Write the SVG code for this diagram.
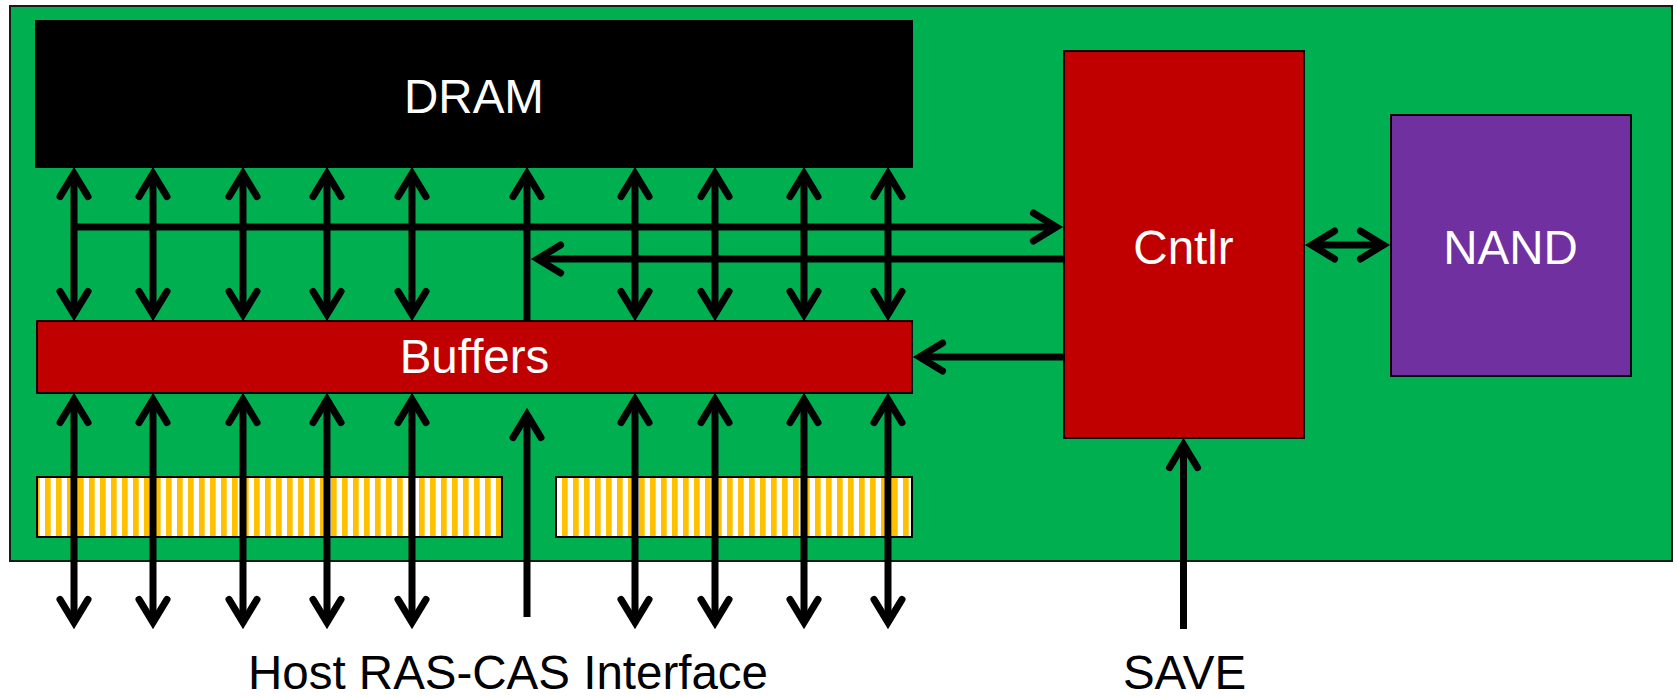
<svg xmlns="http://www.w3.org/2000/svg" width="1677" height="696" viewBox="0 0 1677 696">
  <style>
    .box { stroke: #000; stroke-width: 2; }
    .label { font-family: "Liberation Sans", Arial, sans-serif; font-size: 47.5px; text-anchor: middle; }
    .white { fill: #fff; }
    .dark { fill: #000; }
    .wire { fill: none; stroke: #000; stroke-width: 7; stroke-linecap: butt; }
    .end { marker-end: url(#head); }
    .both { marker-start: url(#head); marker-end: url(#head); }
  </style>
  <defs>
    <!-- open chevron arrowhead; its vertex sits at the path end -->
    <marker id="head" markerUnits="userSpaceOnUse" viewBox="-40 -30 60 60" markerWidth="60" markerHeight="60" refX="0" refY="0" orient="auto-start-reverse" overflow="visible">
      <path d="M-23,-14 L0,0 L-23,14" fill="none" stroke="#000" stroke-width="7" stroke-linecap="round" stroke-linejoin="miter"/>
    </marker>
    <!-- orange / white vertical stripes of the edge connector -->
    <pattern id="stripes" patternUnits="userSpaceOnUse" x="1" y="0" width="11" height="20">
      <rect width="11" height="20" fill="#fff"/>
      <rect width="5.7" height="20" fill="#FFC000"/>
    </pattern>
  </defs>

  <!-- module board -->
  <g id="board">
    <rect x="10" y="6" width="1662" height="555" fill="#00B050" stroke="#1a1a1a" stroke-width="2"/>
  </g>

  <g id="dram">
    <rect class="box" x="36" y="21" width="876" height="146" fill="#000"/>
    <text class="label white" x="474" y="113">DRAM</text>
  </g>

  <g id="buffers">
    <rect class="box" x="37" y="321" width="875" height="72" fill="#C00000"/>
    <text class="label white" x="474.5" y="373">Buffers</text>
  </g>

  <g id="cntlr">
    <rect class="box" x="1064" y="51" width="240" height="387" fill="#C00000"/>
    <text class="label white" x="1183.5" y="264">Cntlr</text>
  </g>

  <g id="nand">
    <rect class="box" x="1391" y="115" width="240" height="261" fill="#7030A0"/>
    <text class="label white" x="1510.5" y="264">NAND</text>
  </g>

  <g id="edge-connector">
    <rect class="box" x="37" y="477" width="465" height="60" fill="url(#stripes)"/>
    <rect class="box" x="556" y="477" width="356" height="60" fill="url(#stripes)"/>
  </g>

  <g id="host-label">
    <text class="label dark" x="508" y="689">Host RAS-CAS Interface</text>
  </g>

  <g id="save-label">
    <text class="label dark" x="1184.5" y="689">SAVE</text>
  </g>

  <g id="connectors">
    <!-- DRAM <-> Buffers data lanes -->
    <path class="wire both" d="M74,173.6 V314.4"/>
    <path class="wire both" d="M153,173.6 V314.4"/>
    <path class="wire both" d="M243,173.6 V314.4"/>
    <path class="wire both" d="M327,173.6 V314.4"/>
    <path class="wire both" d="M412,173.6 V314.4"/>
    <path class="wire both" d="M635,173.6 V314.4"/>
    <path class="wire both" d="M715,173.6 V314.4"/>
    <path class="wire both" d="M804,173.6 V314.4"/>
    <path class="wire both" d="M888,173.6 V314.4"/>
    <!-- command path from Buffers up to DRAM -->
    <path class="wire end" d="M527,321 V173.6"/>
    <!-- DRAM bus tap into the controller -->
    <path class="wire end" d="M74,227 H1056.4"/>
    <!-- controller command to DRAM path -->
    <path class="wire end" d="M1064,259 H537.6"/>
    <!-- controller to Buffers -->
    <path class="wire end" d="M1064,357 H919.6"/>
    <!-- controller <-> NAND -->
    <path class="wire both" d="M1311.6,245 H1383.4"/>

    <!-- Buffers <-> host data lanes -->
    <path class="wire both" d="M74,399.6 V622.4"/>
    <path class="wire both" d="M153,399.6 V622.4"/>
    <path class="wire both" d="M243,399.6 V622.4"/>
    <path class="wire both" d="M327,399.6 V622.4"/>
    <path class="wire both" d="M412,399.6 V622.4"/>
    <path class="wire both" d="M635,399.6 V622.4"/>
    <path class="wire both" d="M715,399.6 V622.4"/>
    <path class="wire both" d="M804,399.6 V622.4"/>
    <path class="wire both" d="M888,399.6 V622.4"/>
    <!-- host command into Buffers -->
    <path class="wire end" d="M527,617 V414.6"/>
    <!-- SAVE signal into the controller -->
    <path class="wire end" d="M1183.5,629 V444.6"/>
  </g>
</svg>
